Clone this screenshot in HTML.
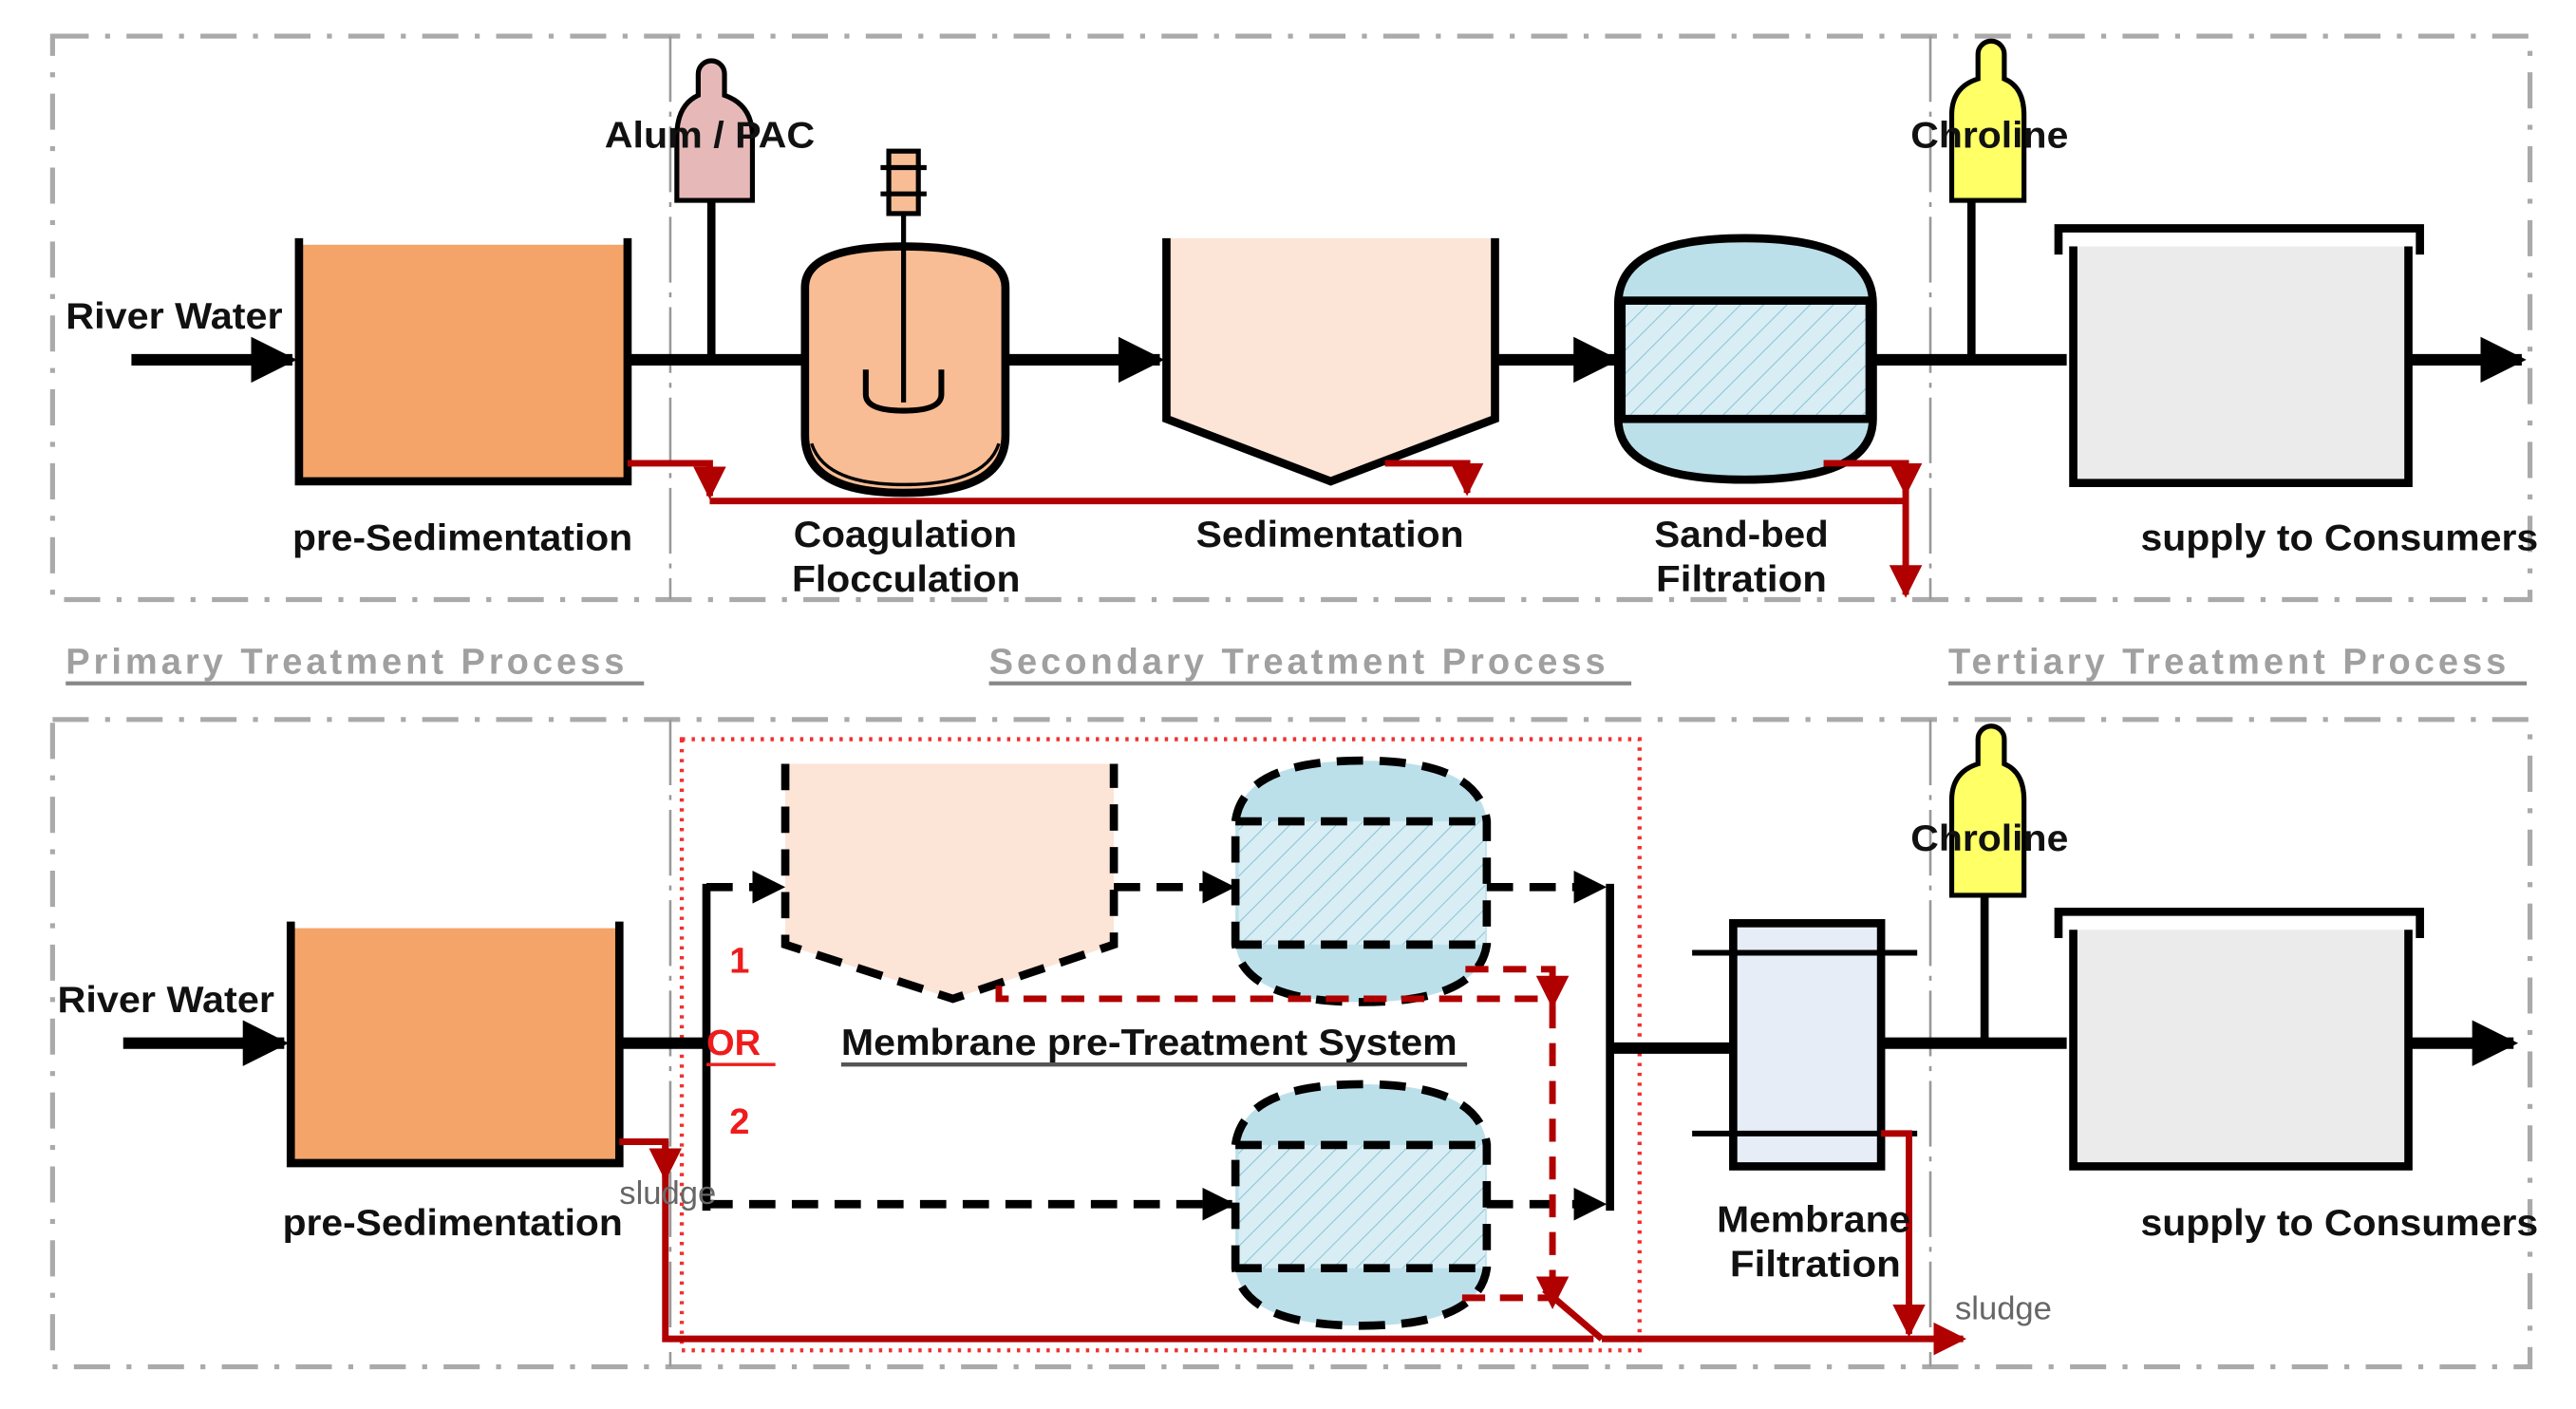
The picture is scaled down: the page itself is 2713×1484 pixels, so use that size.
<!DOCTYPE html>
<html><head><meta charset="utf-8"><style>
html,body{margin:0;padding:0;background:#fff;}
svg{display:block;}
text{font-family:"Liberation Sans",Arial,sans-serif;font-weight:bold;}
</style></head><body>
<svg width="2713" height="1484" viewBox="0 0 1568 857.7" preserveAspectRatio="none" xmlns="http://www.w3.org/2000/svg">
<defs>
<pattern id="h" width="10" height="10" patternUnits="userSpaceOnUse" patternTransform="rotate(45)">
<rect width="10" height="10" fill="#d8eef4"/><line x1="0" y1="0" x2="0" y2="10" stroke="#8cc3d6" stroke-width="1.2"/></pattern>
<marker id="ab" viewBox="0 0 10 10" refX="9" refY="5" markerWidth="4" markerHeight="4" orient="auto"><path d="M0,0L10,5L0,10z" fill="#000"/></marker>
<marker id="ar" viewBox="0 0 10 10" refX="9" refY="5" markerWidth="5" markerHeight="5" orient="auto"><path d="M0,0L10,5L0,10z" fill="#b00000"/></marker>
</defs>
<g fill="none" stroke="#aaa" stroke-width="3" stroke-dasharray="22,10,3,10">
<rect x="32" y="22" width="1508" height="343"/>
<rect x="32" y="438" width="1508" height="394"/>
</g>
<g stroke="#999" stroke-width="1.5" stroke-dasharray="40,6,3,6">
<line x1="408" y1="22" x2="408" y2="365"/><line x1="1175" y1="22" x2="1175" y2="365"/>
<line x1="408" y1="438" x2="408" y2="832"/><line x1="1175" y1="438" x2="1175" y2="832"/>
</g>
<g fill="#a0a0a0" font-size="22" letter-spacing="2.3">
<text x="40" y="410">Primary Treatment Process</text>
<text x="602" y="410">Secondary Treatment Process</text>
<text x="1186" y="410">Tertiary Treatment Process</text>
</g>
<g stroke="#888" stroke-width="2.5">
<line x1="40" y1="416" x2="392" y2="416"/><line x1="602" y1="416" x2="993" y2="416"/><line x1="1186" y1="416" x2="1538" y2="416"/>
</g>

<g stroke="#000" stroke-width="7" fill="none">
<line x1="80" y1="219" x2="178" y2="219" marker-end="url(#ab)"/>
<line x1="382" y1="219" x2="490" y2="219"/>
<line x1="433" y1="122" x2="433" y2="219" stroke-width="5"/>
<line x1="612" y1="219" x2="706" y2="219" marker-end="url(#ab)"/>
<line x1="910" y1="219" x2="983" y2="219" marker-end="url(#ab)"/>
<line x1="1140" y1="219" x2="1258" y2="219"/>
<line x1="1200" y1="122" x2="1200" y2="219" stroke-width="5"/>
<line x1="1465" y1="219" x2="1535" y2="219" marker-end="url(#ab)"/>
</g>
<rect x="184" y="149" width="196" height="143" fill="#F4A468"/>
<path d="M182,145V293H382V145" fill="none" stroke="#000" stroke-width="5"/>
<path d="M425,45a8,8 0 0 1 16,0V58H441q17,6 17,25V122H412V83q0,-19 13,-25z" fill="#E6B9B8" stroke="#000" stroke-width="3"/>
<path d="M490,175q0,-25 60,-25q62,0 62,25V265q0,35 -62,35q-60,0 -60,-35z" fill="#F8BD94" stroke="#000" stroke-width="5"/>
<path d="M494,270q8,25 56,25q50,0 58,-25" fill="none" stroke="#000" stroke-width="2"/>
<line x1="550" y1="130" x2="550" y2="245" stroke="#000" stroke-width="3"/>
<rect x="541" y="92" width="18" height="38" fill="#F8BD94" stroke="#000" stroke-width="3"/>
<line x1="536" y1="102" x2="564" y2="102" stroke="#000" stroke-width="3"/><line x1="536" y1="118" x2="564" y2="118" stroke="#000" stroke-width="3"/>
<path d="M527,225V240q0,10 23,10q23,0 23,-10V225" fill="none" stroke="#000" stroke-width="3.5"/>
<path d="M710,145V255L810,293L910,255V145" fill="#FCE4D6" stroke="#000" stroke-width="5"/>
<path d="M985,185q0,-40 77,-40q78,0 78,40V255q0,37 -78,37q-77,0 -77,-37z" fill="#BCE0EA" stroke="#000" stroke-width="5"/>
<rect x="987" y="183" width="151" height="72" fill="url(#h)" stroke="#000" stroke-width="5"/>
<path d="M1204,33a8,8 0 0 1 16,0V48q12,5 12,22V122H1188V70q0,-17 16,-22z" fill="#FFFF66" stroke="#000" stroke-width="3"/>
<rect x="1262" y="150" width="204" height="144" fill="#EBEBEB"/>
<path d="M1262,150V294H1466V150" fill="none" stroke="#000" stroke-width="5"/>
<path d="M1253,155V139H1473V155" fill="none" stroke="#000" stroke-width="5"/>
<g stroke="#B00000" stroke-width="4" fill="none">
<polyline points="382,282 432,282 432,302" marker-end="url(#ar)"/>
<line x1="432" y1="305" x2="1160" y2="305"/>
<polyline points="843,282 893,282 893,300" marker-end="url(#ar)"/>
<polyline points="1110,282 1160,282 1160,300" marker-end="url(#ar)"/>
<line x1="1160" y1="282" x2="1160" y2="362" marker-end="url(#ar)"/>
</g>
<g font-size="22.5" fill="#111">
<text x="40" y="200" textLength="132" lengthAdjust="spacingAndGlyphs">River Water</text>
<text x="368" y="90" textLength="128" lengthAdjust="spacingAndGlyphs">Alum / PAC</text>
<text x="178" y="335" textLength="207" lengthAdjust="spacingAndGlyphs">pre-Sedimentation</text>
<text x="483" y="333" textLength="136" lengthAdjust="spacingAndGlyphs">Coagulation</text>
<text x="482" y="360" textLength="139" lengthAdjust="spacingAndGlyphs">Flocculation</text>
<text x="728" y="333" textLength="163" lengthAdjust="spacingAndGlyphs">Sedimentation</text>
<text x="1007" y="333" textLength="106" lengthAdjust="spacingAndGlyphs">Sand-bed</text>
<text x="1008" y="360" textLength="104" lengthAdjust="spacingAndGlyphs">Filtration</text>
<text x="1163" y="90" textLength="96" lengthAdjust="spacingAndGlyphs">Chroline</text>
<text x="1303" y="335" textLength="242" lengthAdjust="spacingAndGlyphs">supply to Consumers</text>
</g>

<rect x="415" y="450" width="583" height="372" fill="none" stroke="#f03030" stroke-width="2.5" stroke-dasharray="2,4"/>
<g stroke="#000" stroke-width="7" fill="none">
<line x1="75" y1="635" x2="173" y2="635" marker-end="url(#ab)"/>
<line x1="377" y1="635" x2="430" y2="635"/>
<line x1="980" y1="638" x2="1055" y2="638"/>
<line x1="1145" y1="635" x2="1258" y2="635"/>
<line x1="1208" y1="545" x2="1208" y2="635" stroke-width="5"/>
<line x1="1465" y1="635" x2="1530" y2="635" marker-end="url(#ab)"/>
</g>
<line x1="430" y1="538" x2="430" y2="737" stroke="#000" stroke-width="5"/>
<line x1="980" y1="538" x2="980" y2="737" stroke="#000" stroke-width="5"/>
<rect x="179" y="565" width="196" height="142" fill="#F4A468"/>
<path d="M177,561V708H377V561" fill="none" stroke="#000" stroke-width="5"/>
<path d="M478,465V575L580,608L678,575V465" fill="#FCE4D6"/>
<path d="M478,465V575L580,608L678,575V465" fill="none" stroke="#000" stroke-width="5" stroke-dasharray="16,10"/>
<g>
<path d="M752,500q5,-37 77,-37q72,0 76,37V575q-5,35 -76,35q-72,0 -77,-35z" fill="#BCE0EA"/>
<rect x="754" y="500" width="150" height="75" fill="url(#h)"/>
<path d="M752,500q5,-37 77,-37q72,0 76,37V575q-5,35 -76,35q-72,0 -77,-35zM752,500H905M752,575H905" fill="none" stroke="#000" stroke-width="5" stroke-dasharray="16,10"/>
</g>
<g transform="translate(0,197)">
<path d="M752,500q5,-37 77,-37q72,0 76,37V575q-5,35 -76,35q-72,0 -77,-35z" fill="#BCE0EA"/>
<rect x="754" y="500" width="150" height="75" fill="url(#h)"/>
<path d="M752,500q5,-37 77,-37q72,0 76,37V575q-5,35 -76,35q-72,0 -77,-35zM752,500H905M752,575H905" fill="none" stroke="#000" stroke-width="5" stroke-dasharray="16,10"/>
</g>
<g stroke="#000" stroke-width="5" fill="none" stroke-dasharray="16,10">
<line x1="430" y1="540" x2="476" y2="540" marker-end="url(#ab)"/>
<line x1="678" y1="540" x2="750" y2="540" marker-end="url(#ab)"/>
<line x1="905" y1="540" x2="976" y2="540" marker-end="url(#ab)"/>
<line x1="430" y1="733" x2="750" y2="733" marker-end="url(#ab)"/>
<line x1="905" y1="733" x2="976" y2="733" marker-end="url(#ab)"/>
</g>
<rect x="1055" y="562" width="90" height="148" fill="#E6EDF7" stroke="#000" stroke-width="5"/>
<line x1="1030" y1="580" x2="1167" y2="580" stroke="#000" stroke-width="3.5"/>
<line x1="1030" y1="690" x2="1167" y2="690" stroke="#000" stroke-width="3.5"/>
<path d="M1204,450a8,8 0 0 1 16,0V465q12,5 12,22V545H1188V487q0,-17 16,-22z" fill="#FFFF66" stroke="#000" stroke-width="3"/>
<rect x="1262" y="566" width="204" height="144" fill="#EBEBEB"/>
<path d="M1262,566V710H1466V566" fill="none" stroke="#000" stroke-width="5"/>
<path d="M1253,571V555H1473V571" fill="none" stroke="#000" stroke-width="5"/>
<g stroke="#B00000" stroke-width="4" fill="none">
<polyline points="377,695 405,695 405,717" marker-end="url(#ar)"/>
<polyline points="405,695 405,815 970,815"/>
<line x1="975" y1="815" x2="1195" y2="815" marker-end="url(#ar)"/>
<polyline points="1145,690 1162,690 1162,812" marker-end="url(#ar)"/>
<polyline points="940,785 975,815"/>
</g>
<g stroke="#B00000" stroke-width="4" fill="none" stroke-dasharray="14,9">
<polyline points="608,600 608,608 945,608"/>
<polyline points="892,590 945,590 945,612" marker-end="url(#ar)"/>
<line x1="945" y1="612" x2="945" y2="795" marker-end="url(#ar)"/>
<line x1="890" y1="790" x2="945" y2="790"/>
</g>
<g font-size="22.5" fill="#111">
<text x="35" y="616" textLength="132" lengthAdjust="spacingAndGlyphs">River Water</text>
<text x="172" y="752" textLength="207" lengthAdjust="spacingAndGlyphs">pre-Sedimentation</text>
<text x="512" y="642" textLength="375" lengthAdjust="spacingAndGlyphs">Membrane pre-Treatment System</text>
<text x="1045" y="750" textLength="118" lengthAdjust="spacingAndGlyphs">Membrane</text>
<text x="1053" y="777" textLength="104" lengthAdjust="spacingAndGlyphs">Filtration</text>
<text x="1163" y="518" textLength="96" lengthAdjust="spacingAndGlyphs">Chroline</text>
<text x="1303" y="752" textLength="242" lengthAdjust="spacingAndGlyphs">supply to Consumers</text>
</g>
<line x1="512" y1="648" x2="893" y2="648" stroke="#555" stroke-width="2.5"/>
<g font-size="22" fill="#ee1c1c">
<text x="444" y="592">1</text>
<text x="430" y="642">OR</text>
<text x="444" y="690">2</text>
</g>
<line x1="430" y1="648" x2="472" y2="648" stroke="#ee1c1c" stroke-width="2"/>
<g font-size="20" fill="#666">
<text x="377" y="733" style="font-weight:normal">sludge</text>
<text x="1190" y="803" style="font-weight:normal">sludge</text>
</g>
</svg>
</body></html>
